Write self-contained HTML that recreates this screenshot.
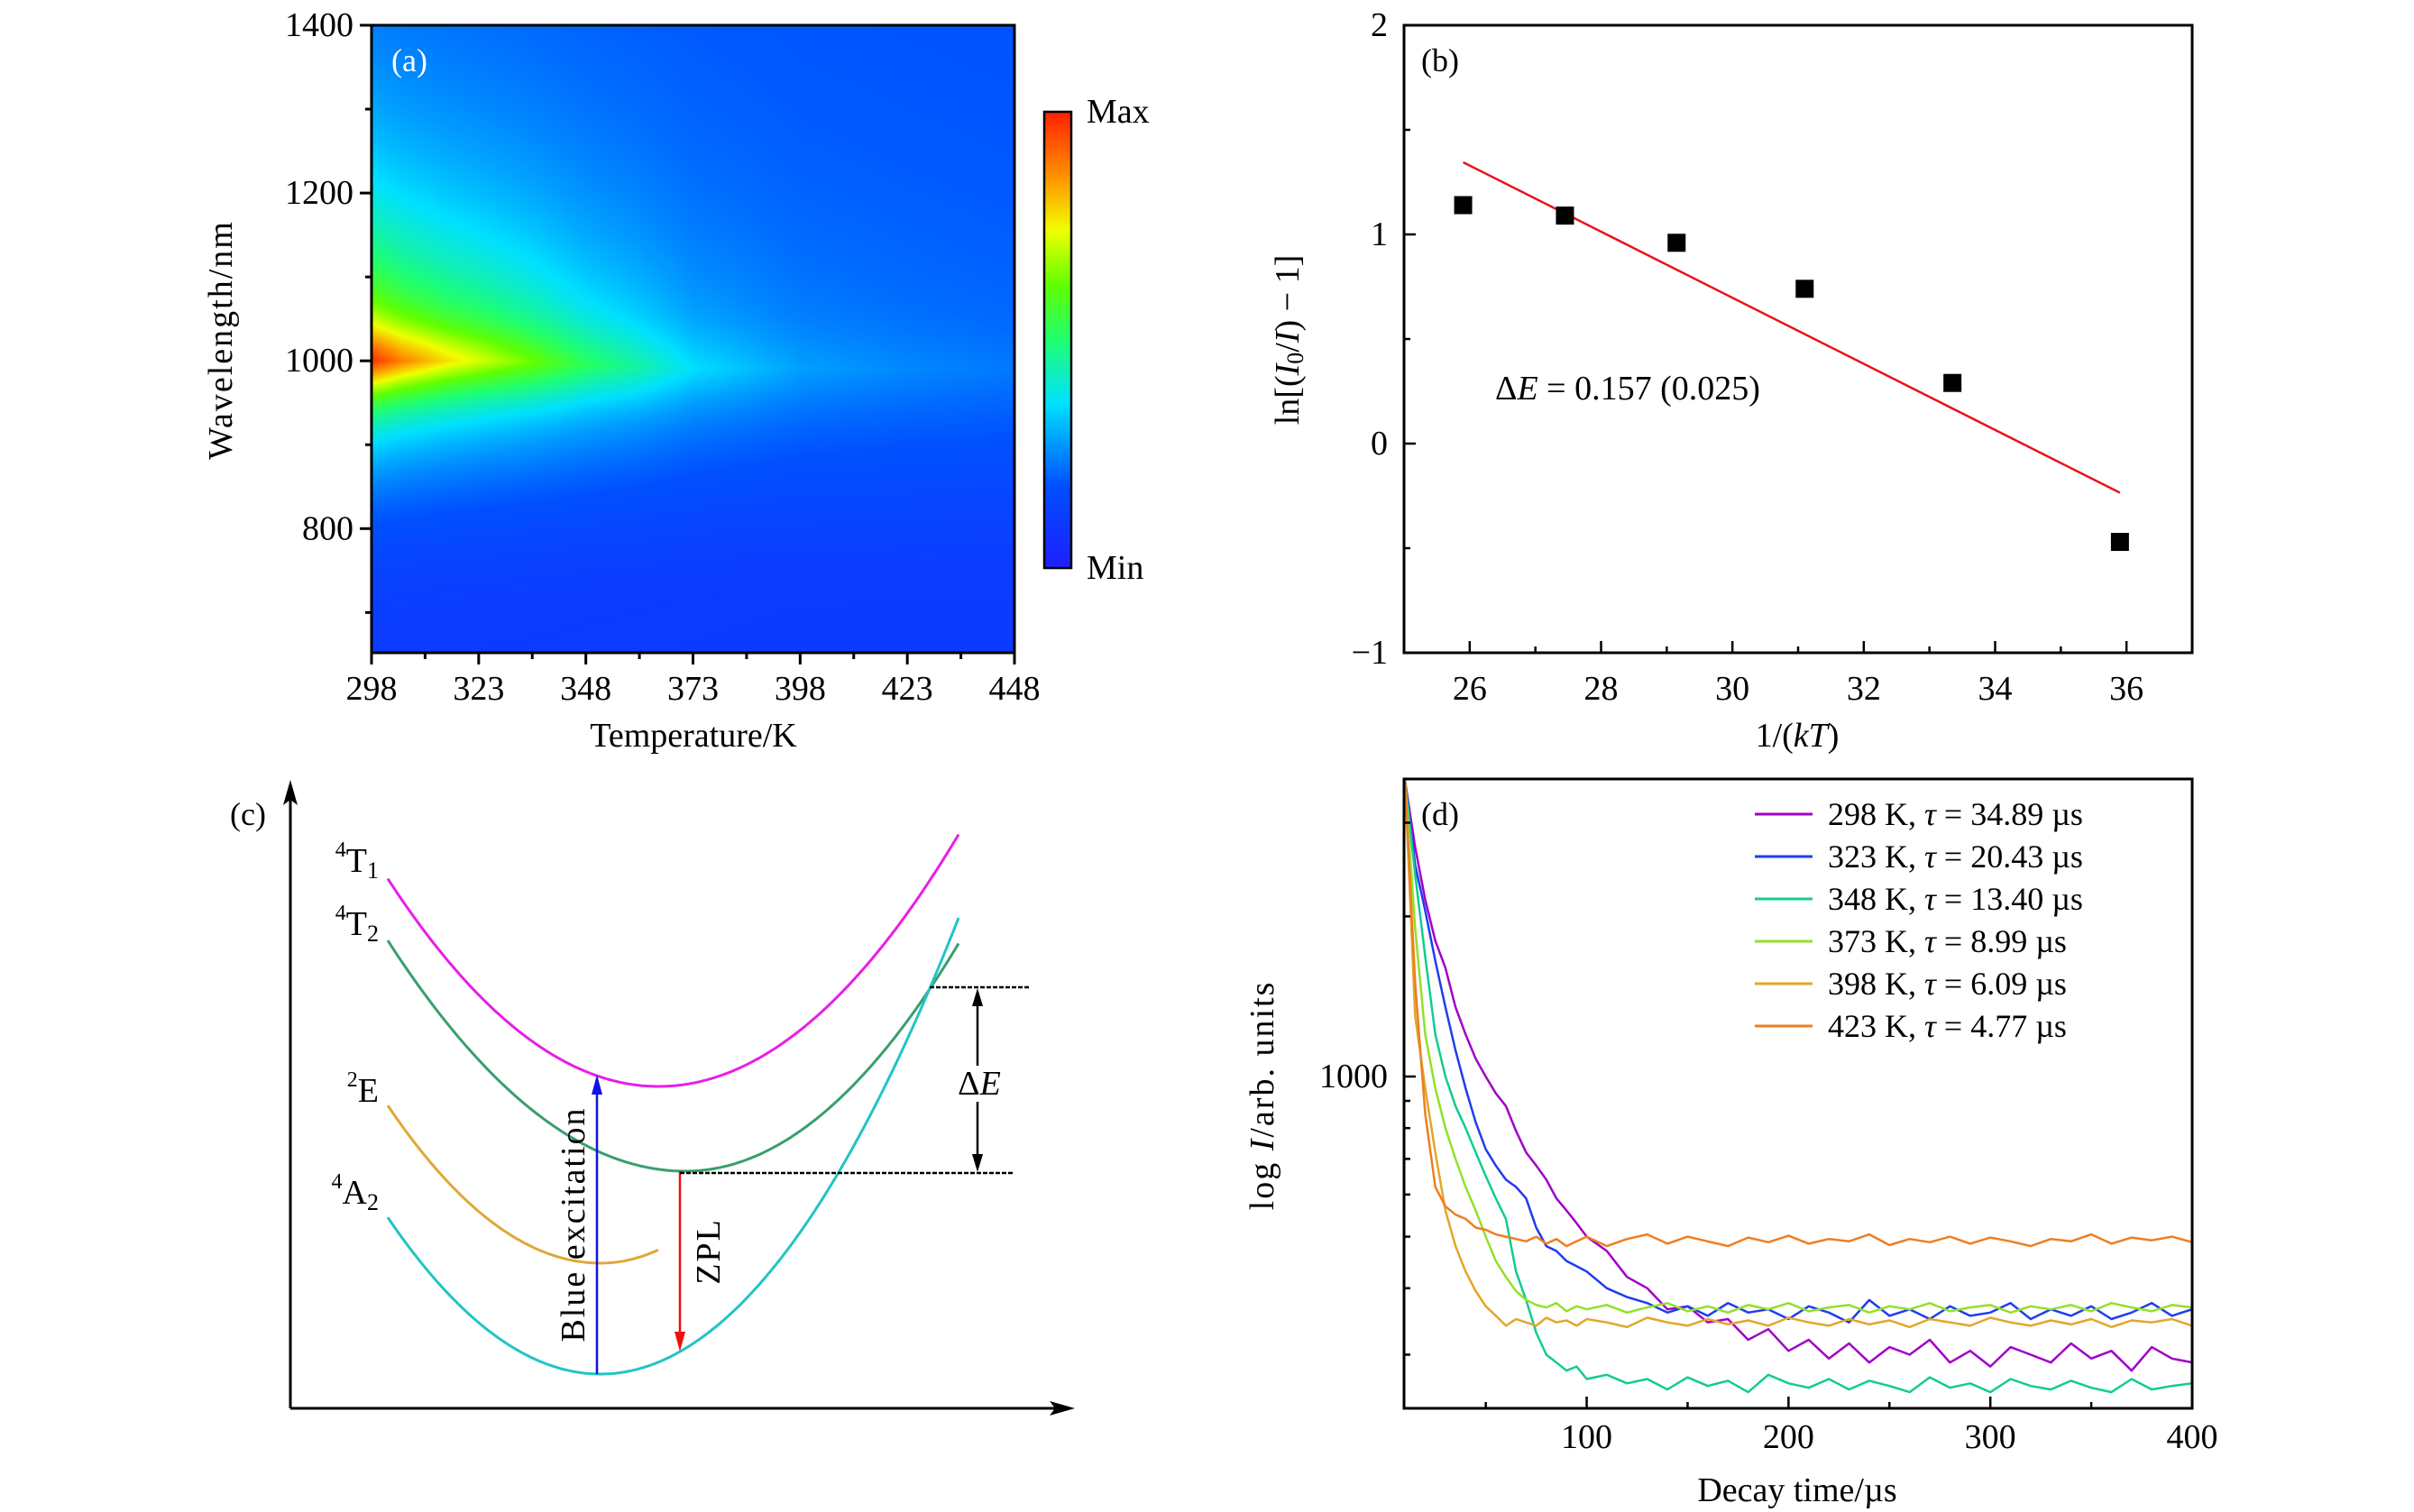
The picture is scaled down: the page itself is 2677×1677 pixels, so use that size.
<!DOCTYPE html>
<html><head><meta charset="utf-8">
<style>
html,body{margin:0;padding:0;background:#fff;}
#wrap{position:relative;width:2677px;height:1677px;overflow:hidden;}
svg{position:absolute;left:0;top:0;}
canvas{position:absolute;}
text{font-family:"Liberation Serif",serif;fill:#000;}
</style></head>
<body>
<div id="wrap">
<canvas id="heat" width="713" height="696" style="left:412px;top:28px"></canvas>
<svg id="fig" width="2677" height="1677" viewBox="0 0 2677 1677">
<defs>
<linearGradient id="jet" x1="0" y1="1" x2="0" y2="0">
<stop offset="0" stop-color="#1e1eff"/><stop offset="0.18" stop-color="#0050ff"/>
<stop offset="0.36" stop-color="#00e0ff"/><stop offset="0.5" stop-color="#20ff70"/>
<stop offset="0.62" stop-color="#60ff00"/><stop offset="0.74" stop-color="#f0ff00"/>
<stop offset="0.86" stop-color="#ff9000"/><stop offset="1" stop-color="#ff2000"/>
</linearGradient>
</defs>
</svg>
</div>
<script>
// ---------- Panel (a) data ----------
const aTemps = [298, 305, 315, 323, 335, 348, 360, 373, 398, 423, 448];
const aPeakAmp = [0.8, 0.7, 0.6, 0.54, 0.45, 0.34, 0.27, 0.18, 0.1, 0.07, 0.05];
const aPeakWl = [1000, 1000, 1000, 1000, 998, 995, 992, 990, 990, 990, 990];
const aXTicks = [298, 323, 348, 373, 398, 423, 448];
const aYTicks = [800, 1000, 1200, 1400];
// ---------- Panel (b) data ----------
const bX = [25.9, 27.45, 29.15, 31.1, 33.35, 35.9];
const bY = [1.14, 1.09, 0.96, 0.74, 0.29, -0.47];
const bFitX = [25.9, 35.9];
const bFitY = [1.345, -0.235];
const bXTicks = [26, 28, 30, 32, 34, 36];
const bYTicks = [-1, 0, 1, 2];
// ---------- Panel (d) data ----------
const dTime = [10,15,20,25,30,35,40,45,50,55,60,65,70,75,80,85,90,95,100,110,120,130,140,150,160,170,180,190,200,210,220,230,240,250,260,270,280,290,300,310,320,330,340,350,360,370,380,390,400];
const d298 = [3600,2700,2150,1800,1600,1350,1200,1080,1000,930,880,790,720,680,640,590,560,530,500,470,420,400,365,370,345,350,320,335,305,320,295,315,290,310,300,320,290,305,285,310,300,290,315,295,305,280,310,295,290];
const d323 = [3600,2500,2050,1650,1350,1120,950,820,730,680,640,620,590,520,480,470,450,440,430,400,385,375,360,370,355,375,360,365,350,370,360,345,380,355,365,350,370,355,360,375,350,365,355,370,350,360,375,355,365];
const d348 = [3600,2400,1680,1200,1000,880,800,720,650,590,540,430,380,330,300,290,280,285,270,275,265,270,258,272,262,268,255,275,265,260,270,258,268,262,255,272,260,265,255,270,262,258,268,260,255,270,258,262,265];
const d373 = [3600,1900,1200,950,800,700,620,560,500,450,420,395,380,372,368,375,362,370,365,372,360,368,375,362,370,360,372,365,375,362,368,372,360,370,365,375,362,368,372,360,370,365,372,362,375,368,362,372,368];
const d398 = [3600,1300,950,720,560,480,430,395,370,355,340,350,345,340,352,345,348,340,350,345,338,352,345,340,350,342,348,340,352,345,340,350,342,348,338,350,345,340,352,345,340,348,342,350,338,348,345,350,340];
const d423 = [3600,1500,850,620,570,550,540,520,515,505,500,495,490,500,485,495,480,490,500,480,495,505,485,500,490,480,498,488,502,485,495,490,505,482,495,488,500,485,498,490,480,495,490,505,485,498,492,500,488];
const dSeries = [d298, d323, d348, d373, d398, d423];
const dLabels = ["298 K, ", "323 K, ", "348 K, ", "373 K, ", "398 K, ", "423 K, "];
const dTau = ["34.89", "20.43", "13.40", "8.99", "6.09", "4.77"];
const dColors = ["#a100c8", "#1f3cf0", "#12cc92", "#94e02a", "#e2a62a", "#ee7e22"];
const dXTicks = [100, 200, 300, 400];
const dYTicks = [1000];
const dYMinor = [300, 400, 500, 600, 700, 800, 900, 2000, 3000];

const NS = "http://www.w3.org/2000/svg";
const svg = document.getElementById("fig");
function mk(tag, attrs, parent) {
  const e = document.createElementNS(NS, tag);
  for (const k in attrs) e.setAttribute(k, attrs[k]);
  (parent || svg).appendChild(e);
  return e;
}
function txt(str, x, y, size, anchor, parent) {
  const t = mk("text", {x: x, y: y, "font-size": size, "text-anchor": anchor || "middle", "dominant-baseline": "central"}, parent);
  t.textContent = str;
  return t;
}
function group(name) {
  const g = mk("g", {});
  
  
  return g;
}

// ================= Panel (a) =================
const aL = 412, aR = 1125, aT = 28, aB = 724, aWmin = 652, aWmax = 1400;
function xa(T) { return aL + (T - 298) / 150 * (aR - aL); }
function ya(w) { return aT + (aWmax - w) / (aWmax - aWmin) * (aB - aT); }
function interp(xs, ys, x) {
  if (x <= xs[0]) return ys[0];
  for (let i = 1; i < xs.length; i++) if (x <= xs[i]) { const f = (x - xs[i-1]) / (xs[i] - xs[i-1]); return ys[i-1] + f * (ys[i] - ys[i-1]); }
  return ys[ys.length - 1];
}
const cmPos = [0, 0.18, 0.36, 0.5, 0.62, 0.74, 0.86, 1];
const cmCol = [[30,30,255],[0,80,255],[0,224,255],[32,255,112],[96,255,0],[240,255,0],[255,144,0],[255,32,0]];
function cmap(v) {
  v = Math.max(0, Math.min(1, v));
  for (let i = 1; i < cmPos.length; i++) if (v <= cmPos[i]) {
    const f = (v - cmPos[i-1]) / (cmPos[i] - cmPos[i-1]);
    return [0,1,2].map(j => cmCol[i-1][j] + f * (cmCol[i][j] - cmCol[i-1][j]));
  }
  return cmCol[cmCol.length - 1];
}
(function drawHeat() {
  const cv = document.getElementById("heat"); const ctx = cv.getContext("2d");
  const W = cv.width, H = cv.height; const img = ctx.createImageData(W, H);
  for (let py = 0; py < H; py++) {
    const w = aWmax - (py + 0.5) / H * (aWmax - aWmin);
    const s = Math.max(0, Math.min(1, (w - 700) / 280));
    const bg = 0.1 + 0.08 * s * s * (3 - 2 * s);
    for (let px = 0; px < W; px++) {
      const T = 298 + (px + 0.5) / W * 150;
      const amp = interp(aTemps, aPeakAmp, T);
      const c0 = interp(aTemps, aPeakWl, T);
      const d = w - c0;
      const core = Math.exp(-d * d / (2 * 30 * 30));
      const g = d > 0 ? Math.exp(-d / 165) : Math.exp(d / 78);
      const v = bg + amp * (0.85 * g + 0.15 * core);
      const col = cmap(v);
      const k = (py * W + px) * 4;
      img.data[k] = col[0]; img.data[k+1] = col[1]; img.data[k+2] = col[2]; img.data[k+3] = 255;
    }
  }
  ctx.putImageData(img, 0, 0);
})();
const ga = group("panel-a");
const frameA = mk("rect", {x: aL, y: aT, width: aR - aL, height: aB - aT, fill: "none", stroke: "#000", "stroke-width": 3}, ga);


aXTicks.forEach((T, i) => {
  const tk = mk("line", {x1: xa(T), x2: xa(T), y1: aB, y2: aB + 13, stroke: "#000", "stroke-width": 3}, ga);
  
  
  if (i < aXTicks.length - 1) {
    const mn = mk("line", {x1: xa(T + 12.5), x2: xa(T + 12.5), y1: aB, y2: aB + 7, stroke: "#000", "stroke-width": 3}, ga);
    
    
  }
  const lb = txt(String(T), xa(T), 764, 38, "middle", ga);
  
  
});
aYTicks.forEach(w => {
  const tk = mk("line", {x1: aL - 13, x2: aL, y1: ya(w), y2: ya(w), stroke: "#000", "stroke-width": 3}, ga);
  
  
  const mn = mk("line", {x1: aL - 7, x2: aL, y1: ya(w - 100), y2: ya(w - 100), stroke: "#000", "stroke-width": 3}, ga);
  
  
  const lb = txt(String(w), aL - 20, ya(w), 38, "end", ga);
  
  
});
const aXT = txt("Temperature/K", 769, 816, 38, "middle", ga);


const aYT = txt("Wavelength/nm", 0, 0, 38, "middle", ga);
aYT.setAttribute("transform", "translate(245,377) rotate(-90)");
aYT.setAttribute("letter-spacing", "2");


const aLab = txt("(a)", 434, 67, 36, "start", ga);
aLab.setAttribute("style", "fill:#fff");


const cbar = mk("rect", {x: 1158, y: 124, width: 30, height: 506, fill: "url(#jet)", stroke: "#000", "stroke-width": 2.5}, ga);


const cmax = txt("Max", 1205, 124, 38, "start", ga);


const cmin = txt("Min", 1205, 630, 38, "start", ga);



// ================= Panel (b) =================
const bL = 1557, bR = 2431, bT = 28, bB = 724;
function xb(v) { return bL + (v - 25) / 12 * (bR - bL); }
function yb(v) { return bT + (2 - v) / 3 * (bB - bT); }
const gb = group("panel-b");
const frameB = mk("rect", {x: bL, y: bT, width: bR - bL, height: bB - bT, fill: "none", stroke: "#000", "stroke-width": 3}, gb);


bXTicks.forEach(v => {
  const tk = mk("line", {x1: xb(v), x2: xb(v), y1: bB, y2: bB - 13, stroke: "#000", "stroke-width": 2.5}, gb);
  
  
  const mn = mk("line", {x1: xb(v + 1), x2: xb(v + 1), y1: bB, y2: bB - 7, stroke: "#000", "stroke-width": 2.5}, gb);
  
  
  const lb = txt(String(v), xb(v), 764, 38, "middle", gb);
  
  
});
bYTicks.forEach(v => {
  const tk = mk("line", {x1: bL, x2: bL + 13, y1: yb(v), y2: yb(v), stroke: "#000", "stroke-width": 2.5}, gb);
  
  
  if (v < 2) {
    const mn = mk("line", {x1: bL, x2: bL + 7, y1: yb(v + 0.5), y2: yb(v + 0.5), stroke: "#000", "stroke-width": 2.5}, gb);
    
    
  }
  const lb = txt(v < 0 ? "\u2212" + Math.abs(v) : String(v), bL - 18, yb(v), 38, "end", gb);
  
  
});
const fit = mk("line", {x1: xb(bFitX[0]), y1: yb(bFitY[0]), x2: xb(bFitX[1]), y2: yb(bFitY[1]), stroke: "#e8141a", "stroke-width": 2.5}, gb);


bX.forEach((x, i) => {
  const p = mk("rect", {x: xb(x) - 10, y: yb(bY[i]) - 10, width: 20, height: 20, fill: "#000"}, gb);
  
  
});
const bTxt = mk("text", {x: 1658, y: 431, "font-size": 38, "dominant-baseline": "central"}, gb);
bTxt.innerHTML = '\u0394<tspan font-style="italic">E</tspan> = 0.157 (0.025)';


const bXT = mk("text", {x: 1993, y: 816, "font-size": 38, "text-anchor": "middle", "dominant-baseline": "central"}, gb);
bXT.innerHTML = '1/(<tspan font-style="italic">kT</tspan>)';


const bYT = mk("text", {x: 0, y: 0, "font-size": 38, "text-anchor": "middle", "dominant-baseline": "central", transform: "translate(1428,377) rotate(-90)"}, gb);
bYT.innerHTML = 'ln[(<tspan font-style="italic">I</tspan><tspan font-size="26" dy="8">0</tspan><tspan dy="-8">/</tspan><tspan font-style="italic">I</tspan>) \u2212 1]';


const bLab = txt("(b)", 1576, 67, 36, "start", gb);



// ================= Panel (c) =================
const gc = group("panel-c");
const yAx = mk("path", {d: "M322,1562 L322,875", stroke: "#000", "stroke-width": 3, fill: "none"}, gc);


const yAh = mk("path", {d: "M322,865 L314,893 L322,887 L330,893 Z", fill: "#000"}, gc);


const xAx = mk("path", {d: "M322,1562 L1180,1562", stroke: "#000", "stroke-width": 3, fill: "none"}, gc);


const xAh = mk("path", {d: "M1192,1562 L1164,1554 L1170,1562 L1164,1570 Z", fill: "#000"}, gc);


function parab(x0, x1, xv, yv, aL2, aR2) {
  let d = "";
  for (let x = x0; x <= x1; x += 3) {
    const a = x < xv ? aL2 : aR2;
    d += (d ? " L" : "M") + x + "," + (yv - a * (x - xv) * (x - xv)).toFixed(1);
  }
  return d;
}
const curves = [
  ["curve-4T1", parab(430, 1065, 730, 1205, 0.00256, 0.00252), "#e81ee8"],
  ["curve-4T2", parab(430, 1065, 760, 1299, 0.00235, 0.00275), "#3a9e6c"],
  ["curve-2E", parab(430, 732, 666, 1401, 0.00314, 0.0036), "#e0a838"],
  ["curve-4A2", parab(430, 1065, 666, 1524, 0.00312, 0.00321), "#22c4c4"]
];
curves.forEach(c => {
  const p = mk("path", {d: c[1], stroke: c[2], "stroke-width": 3, fill: "none"}, gc);
  
  
});
const labs = [["4", "T", "1", 955, "label-4T1"], ["4", "T", "2", 1025, "label-4T2"], ["2", "E", "", 1210, "label-2E"], ["4", "A", "2", 1323, "label-4A2"]];
labs.forEach(l => {
  const t = mk("text", {x: 420, y: l[3], "font-size": 38, "text-anchor": "end", "dominant-baseline": "central"}, gc);
  t.innerHTML = '<tspan font-size="24" dy="-12">' + l[0] + '</tspan><tspan dy="12">' + l[1] + '</tspan>' + (l[2] ? '<tspan font-size="26" dy="10">' + l[2] + '</tspan>' : '');
  
  
});
const cLab = txt("(c)", 275, 903, 36, "middle", gc);


const blueA = mk("path", {d: "M662,1524 L662,1210", stroke: "#1010e8", "stroke-width": 2.5, fill: "none"}, gc);


const blueH = mk("path", {d: "M662,1192 L656,1214 L668,1214 Z", fill: "#1010e8"}, gc);


const blueT = txt("Blue excitation", 0, 0, 38, "middle", gc);
blueT.setAttribute("transform", "translate(636,1358) rotate(-90)");
blueT.setAttribute("letter-spacing", "2");


const redA = mk("path", {d: "M754,1299 L754,1480", stroke: "#f01010", "stroke-width": 2.5, fill: "none"}, gc);


const redH = mk("path", {d: "M754,1499 L748,1477 L760,1477 Z", fill: "#f01010"}, gc);


const zplT = txt("ZPL", 0, 0, 38, "middle", gc);
zplT.setAttribute("transform", "translate(786,1388) rotate(-90)");
zplT.setAttribute("letter-spacing", "2");


const dash1 = mk("line", {x1: 1031, x2: 1141, y1: 1095, y2: 1095, stroke: "#000", "stroke-width": 2.5, "stroke-dasharray": "5,2"}, gc);


const dash2 = mk("line", {x1: 754, x2: 1125, y1: 1301, y2: 1301, stroke: "#000", "stroke-width": 2.5, "stroke-dasharray": "5,2"}, gc);


const dA = mk("path", {d: "M1084,1110 L1084,1182 M1084,1222 L1084,1286", stroke: "#000", "stroke-width": 2.5, fill: "none"}, gc);


const dAh = mk("path", {d: "M1084,1096 L1078,1116 L1090,1116 Z M1084,1300 L1078,1280 L1090,1280 Z", fill: "#000"}, gc);


const dET = mk("text", {x: 1086, y: 1202, "font-size": 38, "text-anchor": "middle", "dominant-baseline": "central"}, gc);
dET.innerHTML = '\u0394<tspan font-style="italic">E</tspan>';



// ================= Panel (d) =================
const dL = 1557, dR = 2431, dT = 864, dB = 1562;
function xd(t) { return dL + (t - 9.5) / 390.5 * (dR - dL); }
function yd(v) { return 1194 - Math.log10(v / 1000) * 590; }
const gd = group("panel-d");
const clip = mk("clipPath", {id: "clipd"}, gd);
mk("rect", {x: dL, y: dT, width: dR - dL, height: dB - dT}, clip);
dSeries.forEach((s, k) => {
  let d = "";
  dTime.forEach((t, i) => { d += (i ? " L" : "M") + xd(t).toFixed(1) + "," + yd(s[i]).toFixed(1); });
  const p = mk("path", {d: d, stroke: dColors[k], "stroke-width": 2.5, fill: "none", "clip-path": "url(#clipd)", "stroke-linejoin": "round"}, gd);
  
  
});
const frameD = mk("rect", {x: dL, y: dT, width: dR - dL, height: dB - dT, fill: "none", stroke: "#000", "stroke-width": 3}, gd);


dXTicks.forEach(t => {
  const tk = mk("line", {x1: xd(t), x2: xd(t), y1: dB, y2: dB - 13, stroke: "#000", "stroke-width": 2.5}, gd);
  
  
  const mn = mk("line", {x1: xd(t - 50), x2: xd(t - 50), y1: dB, y2: dB - 7, stroke: "#000", "stroke-width": 2.5}, gd);
  
  
  const lb = txt(String(t), xd(t), 1594, 38, "middle", gd);
  
  
});
dYTicks.forEach(v => {
  const tk = mk("line", {x1: dL, x2: dL + 13, y1: yd(v), y2: yd(v), stroke: "#000", "stroke-width": 2.5}, gd);
  
  
  const lb = txt(String(v), dL - 18, yd(v), 38, "end", gd);
  
  
});
dYMinor.forEach(v => {
  const mn = mk("line", {x1: dL, x2: dL + 7, y1: yd(v), y2: yd(v), stroke: "#000", "stroke-width": 2.5}, gd);
  
  
});
dLabels.forEach((l, k) => {
  const y = 903 + k * 47;
  const ln = mk("line", {x1: 1946, x2: 2010, y1: y, y2: y, stroke: dColors[k], "stroke-width": 3}, gd);
  
  
  const t = mk("text", {x: 2027, y: y, "font-size": 36, "dominant-baseline": "central"}, gd);
  t.innerHTML = l + '<tspan font-style="italic">\u03c4</tspan> = ' + dTau[k] + ' \u00b5s';
  
  
});
const dXT = txt("Decay time/\u00b5s", 1993, 1653, 38, "middle", gd);


const dYT = mk("text", {x: 0, y: 0, "font-size": 38, "text-anchor": "middle", "dominant-baseline": "central", transform: "translate(1400,1215) rotate(-90)", "letter-spacing": "2"}, gd);
dYT.innerHTML = 'log <tspan font-style="italic">I</tspan>/arb. units';


const dLab = txt("(d)", 1576, 903, 36, "start", gd);


</script>
</body></html>
